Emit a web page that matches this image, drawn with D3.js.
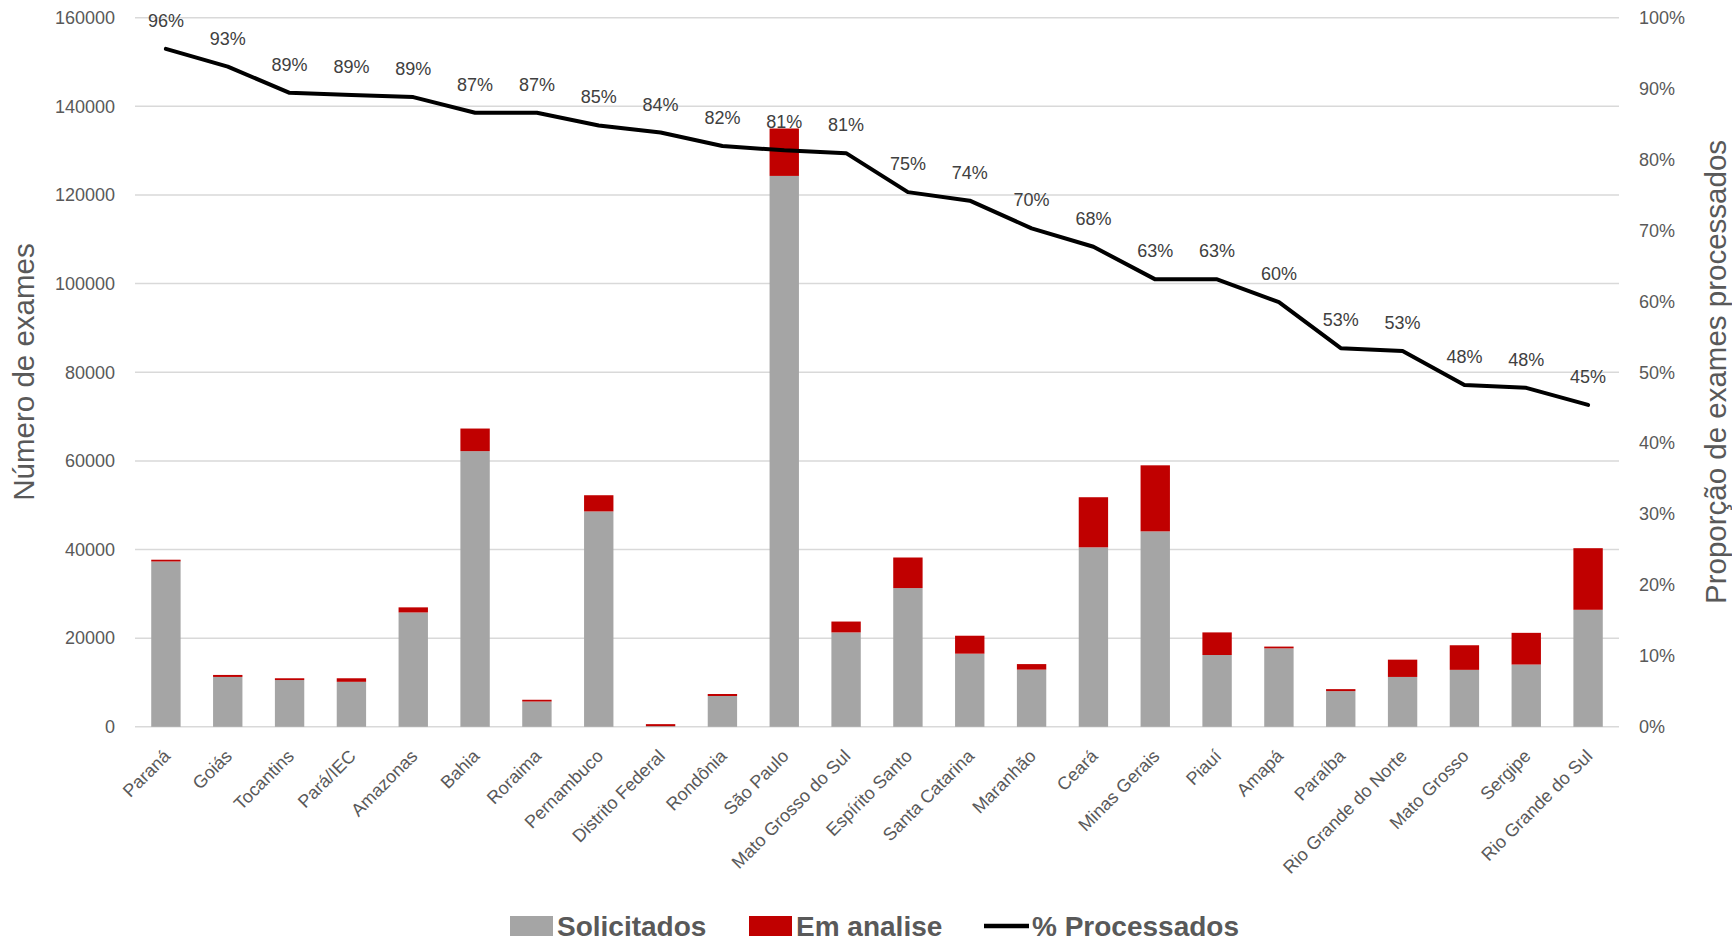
<!DOCTYPE html>
<html><head><meta charset="utf-8">
<script src="https://cdn.jsdelivr.net/npm/d3@7"></script>
<style>
body{margin:0;background:#fff;}
text{font-family:"Liberation Sans",Arial,sans-serif;}
</style>
</head><body>
<svg id="chart" width="1732" height="941"></svg>
<script>
const categories = ["Paraná","Goiás","Tocantins","Pará/IEC","Amazonas","Bahia","Roraima","Pernambuco","Distrito Federal","Rondônia","São Paulo","Mato Grosso do Sul","Espírito Santo","Santa Catarina","Maranhão","Ceará","Minas Gerais","Piauí","Amapá","Paraíba","Rio Grande do Norte","Mato Grosso","Sergipe","Rio Grande do Sul"];
const solicitados = [37300,11250,10550,10150,25800,62200,5700,48600,150,6950,124300,21300,31300,16500,12900,40500,44100,16200,17700,8050,11250,12850,14050,26400];
const emAnalise = [400,450,400,800,1150,5100,400,3650,450,450,10700,2450,6900,4050,1250,11300,14900,5100,400,450,3900,5550,7150,13900];
const processados = [95.6,93.1,89.4,89.1,88.8,86.6,86.6,84.8,83.8,81.9,81.3,80.9,75.4,74.2,70.3,67.7,63.1,63.1,59.9,53.4,53.0,48.2,47.8,45.4];
const leftTicks = [0,20000,40000,60000,80000,100000,120000,140000,160000];
const rightTicks = [0,10,20,30,40,50,60,70,80,90,100];
const seriesNames = ["Solicitados","Em analise","% Processados"];

const colGray = "#a5a5a5", colRed = "#c00000", txt = "#595959";
const svg = d3.select("#chart");
const pLeft = 135, pRight = 1619, pTop = 17.7, pBottom = 726.8;

const pad = 0.525;
const x = d3.scaleBand().domain(categories).range([pLeft, pRight]).paddingInner(pad).paddingOuter(pad/2);
const y = d3.scaleLinear().domain([0,160000]).range([pBottom, pTop]);
const y2 = d3.scaleLinear().domain([0,100]).range([pBottom, pTop]);

// gridlines
svg.append("g").selectAll("line").data(leftTicks).join("line")
  .attr("x1", pLeft).attr("x2", pRight)
  .attr("y1", d=>y(d)).attr("y2", d=>y(d))
  .attr("stroke", "#d9d9d9").attr("stroke-width", 1.5);

// left axis
const gl = svg.append("g").attr("transform", `translate(${pLeft},0)`)
  .call(d3.axisLeft(y).tickValues(leftTicks).tickFormat(d3.format("d")).tickSize(0).tickPadding(20));
gl.select(".domain").remove();
gl.selectAll("text").attr("fill", txt).style("font-size","18px");

// right axis
const gr = svg.append("g").attr("transform", `translate(${pRight},0)`)
  .call(d3.axisRight(y2).tickValues(rightTicks).tickFormat(d=>d+"%").tickSize(0).tickPadding(20));
gr.select(".domain").remove();
gr.selectAll("text").attr("fill", txt).style("font-size","18px");

// bars
const rows = categories.map((c,i)=>({c, s: solicitados[i], e: emAnalise[i], p: processados[i]}));
svg.append("g").selectAll("rect").data(rows).join("rect")
  .attr("x", d=>x(d.c)).attr("width", x.bandwidth())
  .attr("y", d=>y(d.s)).attr("height", d=>y(0)-y(d.s))
  .attr("fill", colGray);
svg.append("g").selectAll("rect").data(rows).join("rect")
  .attr("x", d=>x(d.c)).attr("width", x.bandwidth())
  .attr("y", d=>y(d.s+d.e)).attr("height", d=>y(d.s)-y(d.s+d.e))
  .attr("fill", colRed);

// category labels
svg.append("g").selectAll("text").data(categories).join("text")
  .attr("transform", d=>`translate(${x(d)+x.bandwidth()/2+1},${pBottom+26}) rotate(-45)`)
  .attr("text-anchor","end").attr("dy","0.35em")
  .attr("fill", txt).style("font-size","18px")
  .text(d=>d);

// line
const line = d3.line().x(d=>x(d.c)+x.bandwidth()/2).y(d=>y2(d.p));
svg.append("path").datum(rows).attr("d", line)
  .attr("fill","none").attr("stroke","#000").attr("stroke-width",4)
  .attr("stroke-linejoin","round").attr("stroke-linecap","round");

// percentage labels
svg.append("g").selectAll("text").data(rows).join("text")
  .attr("x", d=>x(d.c)+x.bandwidth()/2)
  .attr("y", d=>y2(d.p)-22)
  .attr("text-anchor","middle").attr("fill","#404040").style("font-size","18px")
  .text(d=>Math.round(d.p)+"%");

// axis titles
svg.append("text").attr("transform",`translate(34,372) rotate(-90)`)
  .attr("text-anchor","middle").attr("fill",txt).style("font-size","29.5px")
  .text("Número de exames");
svg.append("text").attr("transform",`translate(1726,372) rotate(-90)`)
  .attr("text-anchor","middle").attr("fill",txt).style("font-size","29.5px")
  .text("Proporção de exames processados");

// legend
const lg = svg.append("g");
const ly = 926;
lg.append("rect").attr("x",510).attr("y",ly-10).attr("width",43).attr("height",20).attr("fill",colGray);
lg.append("text").attr("x",557).attr("y",ly).attr("dy","0.35em").attr("fill",txt)
  .style("font-size","28px").style("font-weight","bold").text(seriesNames[0]);
lg.append("rect").attr("x",749).attr("y",ly-10).attr("width",43).attr("height",20).attr("fill",colRed);
lg.append("text").attr("x",796).attr("y",ly).attr("dy","0.35em").attr("fill",txt)
  .style("font-size","28px").style("font-weight","bold").text(seriesNames[1]);
lg.append("line").attr("x1",984).attr("x2",1029).attr("y1",ly).attr("y2",ly)
  .attr("stroke","#000").attr("stroke-width",4.5);
lg.append("text").attr("x",1032).attr("y",ly).attr("dy","0.35em").attr("fill",txt)
  .style("font-size","28px").style("font-weight","bold").text(seriesNames[2]);
</script>
</body></html>
